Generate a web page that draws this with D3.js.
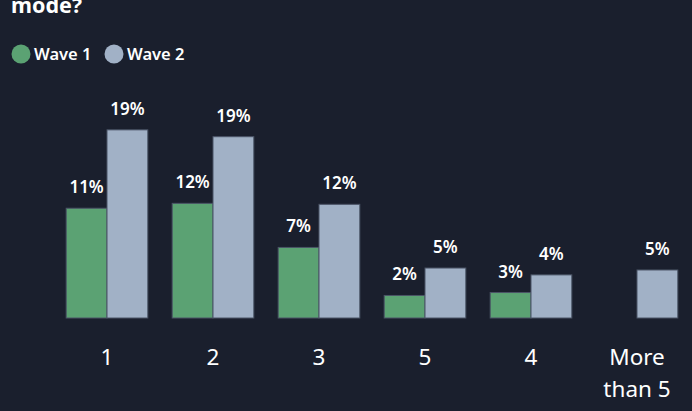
<!DOCTYPE html>
<html>
<head>
<meta charset="utf-8">
<script src="https://cdn.jsdelivr.net/npm/d3@7"></script>
<style>
  html, body { margin: 0; padding: 0; background: #1a1f2d; overflow: hidden; }
  text { font-family: "Noto Sans", "Open Sans", sans-serif; fill: #ffffff; }
</style>
</head>
<body>
<script>
const width = 692;
const height = 411;

// data (percent)
const categories = ["1", "2", "3", "5", "4", "More than 5"];
const wave1 = [11.2, 11.7, 7.2, 2.3, 2.6, null];
const wave2 = [19.2, 18.5, 11.6, 5.1, 4.4, 4.9];
const seriesNames = ["Wave 1", "Wave 2"];
const colors = ["#5ba273", "#a1b1c6"];

const svg = d3.select("body").append("svg")
    .attr("width", width)
    .attr("height", height);

svg.append("rect")
    .attr("width", width)
    .attr("height", height)
    .attr("fill", "#1a1f2d");

// title (only its last line is visible in the crop)
svg.append("text")
    .attr("x", 11)
    .attr("y", 13)
    .style("font-size", "21.5px")
    .style("font-weight", "700")
    .text("mode?");

// legend
const legend = svg.append("g");
const legendX = [21, 114];
seriesNames.forEach((name, i) => {
    legend.append("circle")
        .attr("cx", legendX[i])
        .attr("cy", 54)
        .attr("r", 9.5)
        .attr("fill", colors[i]);
    legend.append("text")
        .attr("x", legendX[i] + 13)
        .attr("y", 60)
        .style("font-size", "16.5px")
        .style("font-weight", "600")
        .text(name);
});

const x = d3.scaleBand()
    .domain(categories)
    .range([54, 690])
    .paddingInner(0.23)
    .paddingOuter(0.115);

const x1 = d3.scaleBand()
    .domain([0, 1])
    .range([0, x.bandwidth()]);

const y = d3.scaleLinear()
    .domain([0, 20])
    .range([318, 122]);

const rows = categories.map((c, i) => ({ cat: c, vals: [wave1[i], wave2[i]] }));

const groups = svg.selectAll(".group")
    .data(rows)
    .enter().append("g")
    .attr("class", "group")
    .attr("transform", d => `translate(${x(d.cat)},0)`);

const bars = groups.selectAll(".bar")
    .data(d => d.vals.map((v, i) => ({ v, i })).filter(d => d.v != null))
    .enter();

bars.append("rect")
    .attr("class", "bar")
    .attr("x", d => x1(d.i))
    .attr("y", d => y(d.v))
    .attr("width", x1.bandwidth())
    .attr("height", d => y(0) - y(d.v))
    .attr("fill", d => colors[d.i])
    .attr("stroke", "#4b5466")
    .attr("stroke-width", 1);

bars.append("text")
    .attr("x", d => x1(d.i) + x1.bandwidth() / 2)
    .attr("y", d => y(d.v) - 15)
    .attr("text-anchor", "middle")
    .style("font-size", "17px")
    .style("font-weight", "600")
    .text(d => Math.round(d.v) + "%");

// category axis
const xAxis = svg.append("g")
    .attr("transform", "translate(0,318)")
    .call(d3.axisBottom(x).tickSize(0).tickPadding(0).tickFormat(""));
xAxis.select(".domain").remove();

xAxis.selectAll(".tick").each(function(d) {
    const t = d3.select(this).append("text")
        .attr("text-anchor", "middle")
        .attr("fill", "#ffffff")
        .style("font-size", "22.5px");
    const words = d === "More than 5" ? ["More", "than 5"] : [d];
    words.forEach((w, i) => {
        t.append("tspan")
            .attr("x", 0)
            .attr("y", 47 + i * 32)
            .text(w);
    });
});
</script>
</body>
</html>
